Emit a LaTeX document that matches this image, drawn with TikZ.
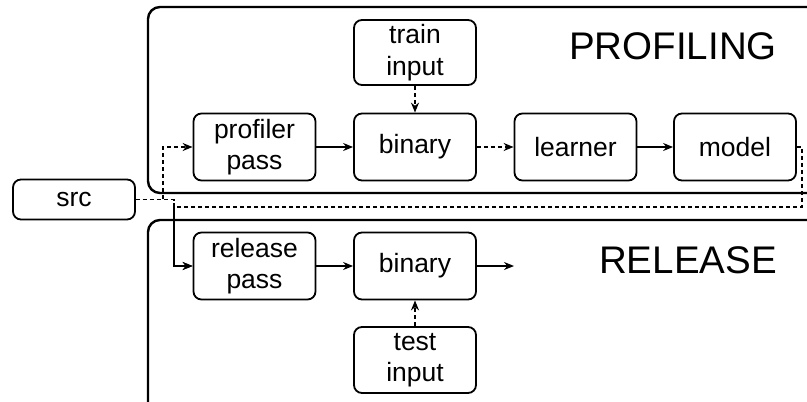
\documentclass[tikz,border=0pt]{standalone}
\usepackage{fontspec}
\setmainfont{Liberation Sans}
\usetikzlibrary{arrows.meta}
\begin{document}
\begin{tikzpicture}[x=1pt,y=-1pt,
  box/.style={draw, line width=1.8pt, rounded corners=8pt, minimum width=122pt, minimum height=67pt, align=center, inner sep=0pt, font=\fontsize{26.5}{31.5}\selectfont},
  smallbox/.style={box, minimum height=40pt},
  region/.style={draw, line width=2.4pt, rounded corners=12pt},
  conn/.style={line width=1.3pt, -{Stealth[length=10pt,width=8pt]}},
  dconn/.style={conn, dash pattern=on 4pt off 3pt},
  title/.style={anchor=base east, inner sep=0pt, font=\fontsize{38.5}{42}\selectfont}]
\useasboundingbox (0,0) rectangle (807,402);
\clip (0,0) rectangle (807,402);
\draw[region] (148,7) rectangle (840,193);
\draw[region] (148,220) rectangle (840,440);
\node[title] (ptitle) at (777,59) {PROFILING};
\node[title] (rtitle) at (777,273) {RELEASE};
\node[smallbox] (src) at (74,199.5) {src};
\node[box] (pp) at (254.5,147) {profiler\\pass};
\node[box] (b1) at (415,147) {binary};
\node[box] (learner) at (575.5,147) {learner};
\node[box] (model) at (735,147) {model};
\node[box, minimum height=65pt] (train) at (415,52.5) {train\\input};
\node[box] (rp) at (254.5,266) {release\\pass};
\node[box] (b2) at (415,266) {binary};
\node[box, minimum height=66pt] (test) at (415,360) {test\\input};
\coordinate (out) at (514,266);
\coordinate (sa) at (163,199.5);
\coordinate (sb) at (174,199.5);
\coordinate (m1) at (802,147);
\coordinate (m2) at (802,207);
\coordinate (m3) at (174,207);
\draw[dconn] (src.east) -- (sa) |- (pp.west);
\draw[dconn] (src.east) -- (sb) |- (rp.west);
\draw[dconn] (model.east) -- (m1) -- (m2) -- (m3) |- (rp.west);
\draw[conn] (pp) -- (b1);
\draw[dconn] (b1) -- (learner);
\draw[conn] (learner) -- (model);
\draw[dconn] (train) -- (b1);
\draw[conn] (rp) -- (b2);
\draw[conn] (b2.east) -- (out);
\draw[dconn] (test) -- (b2);
\end{tikzpicture}
\end{document}
